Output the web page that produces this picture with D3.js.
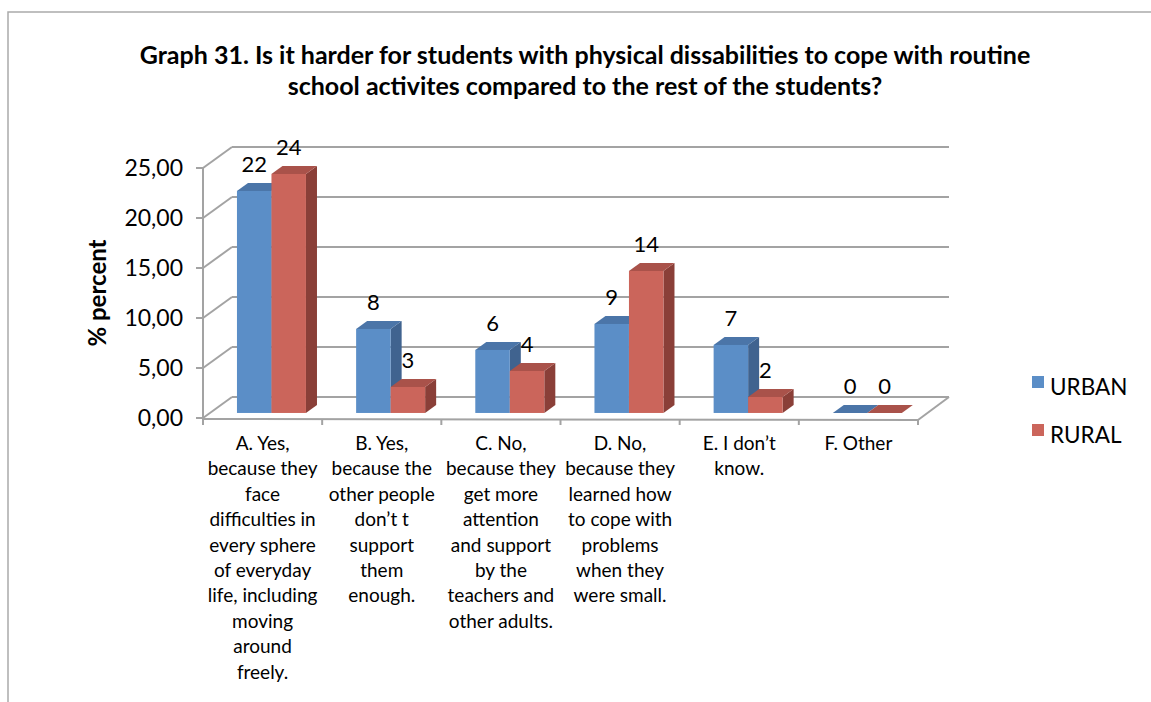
<!DOCTYPE html>
<html><head><meta charset="utf-8">
<script src="https://cdn.jsdelivr.net/npm/d3@7"></script>
<style>
html,body{margin:0;padding:0;background:#fff;}
svg{display:block;}
text{font-family:Lato,"Open Sans",sans-serif;fill:#000;}
</style></head>
<body>
<svg id="chart" width="1151" height="702"></svg>
<script>
const titleLines = ["Graph 31. Is it harder for students with physical dissabilities to cope with routine",
                    "school activites compared to the rest of the students?"];
const yTitle = "% percent";
const categories = ["A","B","C","D","E","F"];
const categoryLabels = [
  ["A. Yes,","because they","face","difficulties in","every sphere","of everyday","life, including","moving","around","freely."],
  ["B. Yes,","because the","other people","don’t t","support","them","enough."],
  ["C. No,","because they","get more","attention","and support","by the","teachers and","other adults."],
  ["D. No,","because they","learned how","to cope with","problems","when they","were small."],
  ["E. I don’t","know."],
  ["F. Other"]
];
const seriesNames = ["URBAN","RURAL"];
const urban = [22.2, 8.4, 6.3, 8.9, 6.8, 0];
const rural = [23.9, 2.6, 4.2, 14.2, 1.6, 0];
const yTicks = [0,5,10,15,20,25];

const colors = {
  URBAN: {front:"#5B8EC7", top:"#4B75A8", side:"#40638F"},
  RURAL: {front:"#CB655B", top:"#A9524A", side:"#8A3F38"}
};
const gridColor = "#a3a3a3";

const svg = d3.select("#chart");
// outer border
svg.append("rect").attr("x",8).attr("y",12).attr("width",1180).attr("height",720)
  .attr("fill","none").attr("stroke","#aaaaaa").attr("stroke-width",1.5);

// geometry
const depthX = 29, depthY = -21;
const x = d3.scaleBand().domain(categories).range([203, 918]);
const xs = d3.scaleBand().domain(seriesNames).range([27, 96]);
const y = d3.scaleLinear().domain([0,25]).range([418,168]);
const fmt = d3.formatLocale({decimal:",",thousands:".",grouping:[3],currency:["",""]}).format(".2f");

// title
svg.append("g").selectAll("text").data(titleLines).join("text")
  .attr("x",585).attr("y",(d,i)=>64+i*31).attr("text-anchor","middle")
  .style("font-weight","bold").style("font-size","25px").text(d=>d);

const g = svg.append("g");
// back wall gridlines
g.selectAll(".grid").data(yTicks).join("line")
  .attr("x1",203+depthX).attr("x2",918+depthX+2)
  .attr("y1",d=>y(d)+depthY).attr("y2",d=>y(d)+depthY)
  .attr("stroke",gridColor).attr("stroke-width",2);
// side wall diagonals
g.selectAll(".diag").data(yTicks).join("line")
  .attr("x1",203).attr("x2",203+depthX)
  .attr("y1",d=>y(d)).attr("y2",d=>y(d)+depthY)
  .attr("stroke",gridColor).attr("stroke-width",2);
// front vertical axis
g.append("line").attr("x1",203).attr("x2",203).attr("y1",y(0)+1).attr("y2",y(25))
  .attr("stroke",gridColor).attr("stroke-width",2);
// tick marks
g.selectAll(".tk").data(yTicks).join("line")
  .attr("x1",196).attr("x2",203).attr("y1",d=>y(d)).attr("y2",d=>y(d))
  .attr("stroke",gridColor).attr("stroke-width",2);
// floor front edge and right edge
g.append("line").attr("x1",203).attr("x2",918).attr("y1",y(0)+1).attr("y2",y(0)+2)
  .attr("stroke",gridColor).attr("stroke-width",2);
g.append("line").attr("x1",918).attr("x2",918+depthX+2).attr("y1",y(0)+2).attr("y2",y(0)+depthY)
  .attr("stroke",gridColor).attr("stroke-width",2);
// category ticks
g.selectAll(".ct").data(categories.concat(["end"])).join("line")
  .attr("x1",(d,i)=> i<categories.length ? x(d) : 918)
  .attr("x2",(d,i)=> i<categories.length ? x(d) : 918)
  .attr("y1",y(0)+1).attr("y2",y(0)+7)
  .attr("stroke",gridColor).attr("stroke-width",2);

// y tick labels
svg.append("g").selectAll("text").data(yTicks).join("text")
  .attr("x",183).attr("y",d=>y(d)+8).attr("text-anchor","end")
  .style("font-size","23px").text(d=>fmt(d));

// y title
svg.append("text").attr("transform","translate(106,293) rotate(-90)")
  .attr("text-anchor","middle").style("font-weight","bold").style("font-size","24px").text(yTitle);

// bars
const f1 = 0.24, f2 = 0.62;
const data = [];
categories.forEach((c,i)=>{
  data.push({cat:c, s:"URBAN", v:urban[i]});
  data.push({cat:c, s:"RURAL", v:rural[i]});
});
const bars = svg.append("g");
data.forEach(d=>{
  const x0 = x(d.cat) + xs(d.s) + depthX*f1;
  const x1 = x0 + xs.bandwidth();
  const yb = y(0) + depthY*f1;
  const yt = y(d.v) + depthY*f1;
  const ddx = depthX*(f2-f1), ddy = depthY*(f2-f1);
  const c = colors[d.s];
  bars.append("path").attr("d",`M${x1},${yb}L${x1+ddx},${yb+ddy}L${x1+ddx},${yt+ddy}L${x1},${yt}Z`).attr("fill",c.side);
  bars.append("path").attr("d",`M${x0},${yt}L${x0+ddx},${yt+ddy}L${x1+ddx},${yt+ddy}L${x1},${yt}Z`).attr("fill",c.top);
  bars.append("rect").attr("x",x0).attr("y",yt).attr("width",xs.bandwidth()).attr("height",yb-yt).attr("fill",c.front);
  bars.append("text").attr("x",(x0+x1)/2).attr("y",yt-19).attr("text-anchor","middle")
    .style("font-size","22px").text(Math.round(d.v));
});

// category labels
const cl = svg.append("g");
categories.forEach((c,i)=>{
  cl.append("text").attr("text-anchor","middle").style("font-size","19px")
    .selectAll("tspan").data(categoryLabels[i]).join("tspan")
    .attr("x",x(c)+x.bandwidth()/2).attr("y",(d,j)=>450+j*25.4).text(d=>d);
});

// legend
const lg = svg.append("g");
seriesNames.forEach((s,i)=>{
  lg.append("rect").attr("x",1032).attr("y",376+i*48).attr("width",12).attr("height",12).attr("fill",colors[s].front);
  lg.append("text").attr("x",1050).attr("y",395+i*48).style("font-size","22.5px").text(s);
});
</script>
</body></html>
